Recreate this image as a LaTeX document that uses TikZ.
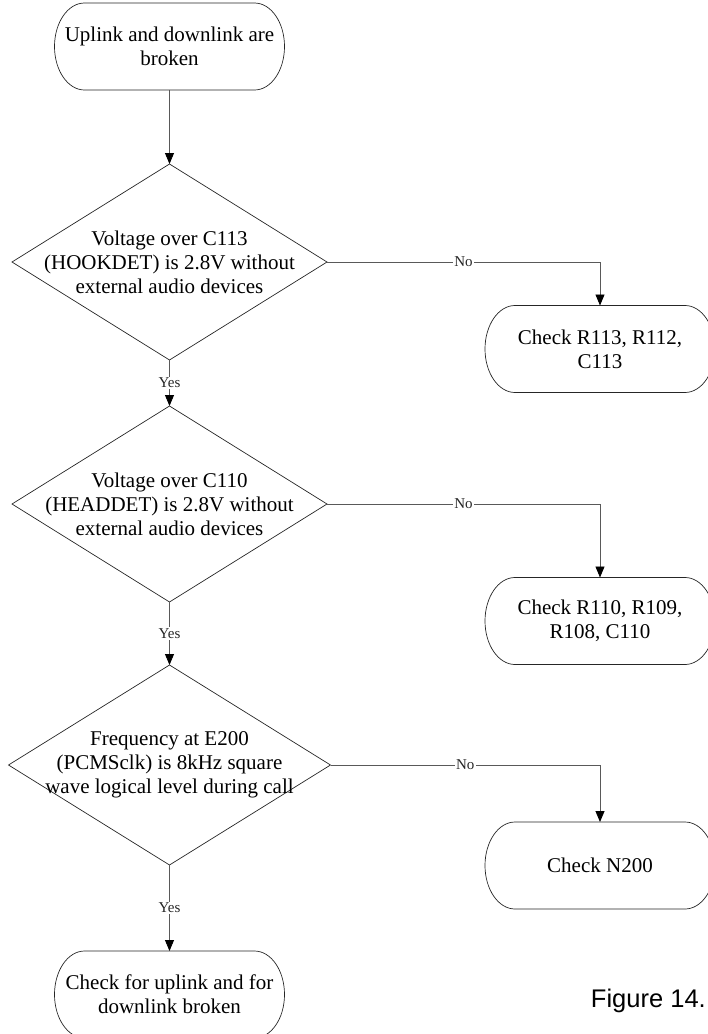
\documentclass[tikz,border=0pt]{standalone}
\usepackage{fontspec}
\setmainfont{Liberation Serif}
\newfontfamily\captionsans{Liberation Sans}
\usetikzlibrary{shapes.geometric,arrows.meta}

\tikzset{
  boxtext/.style={font=\fontsize{21}{24}\selectfont, align=center, inner sep=0pt},
  terminal/.style={rectangle, minimum width=230pt, minimum height=87pt,
    inner sep=0pt, outer sep=0pt, boxtext},
  decision/.style={diamond, draw=black!85, line width=0.7pt, inner sep=0pt,
    outer sep=0pt, minimum width=315pt, minimum height=196pt},
  outline/.style={draw=black!85, line width=0.7pt},
  flow/.style={draw=black!65, line width=0.9pt,
    -{Triangle[length=11pt,width=9pt,black]}},
  edgelabel/.style={fill=white, inner sep=1.5pt,
    font=\fontsize{15}{17}\selectfont, text=black!85},
}

% terminal outline: flat top and bottom, half-elliptic ends
\newcommand\termoutline[1]{%
  \draw[outline] ([xshift=30pt]#1.north west) -- ([xshift=-30pt]#1.north east)
    arc[start angle=90, end angle=-90, x radius=30pt, y radius=43.5pt]
    -- ([xshift=30pt]#1.south west)
    arc[start angle=270, end angle=90, x radius=30pt, y radius=43.5pt] -- cycle;}

\begin{document}
\begin{tikzpicture}[x=1pt, y=1pt]
  \useasboundingbox (0,0) rectangle (708,-1034);

  % main column
  \node[terminal] (start) at (169.5,-46.5) {Uplink and downlink are\\broken};
  \termoutline{start}

  \node[decision] (d1) at (169.5,-262) {};
  \node[boxtext] (d1t) at (d1) {Voltage over C113\\(HOOKDET) is 2.8V without\\external audio devices};

  \node[decision] (d2) at (169.5,-504) {};
  \node[boxtext] (d2t) at (d2) {Voltage over C110\\(HEADDET) is 2.8V without\\external audio devices};

  \node[decision, minimum width=322pt, minimum height=200pt] (d3) at (169.5,-765) {};
  \node[boxtext] (d3t) at (d3) {Frequency at E200\\(PCMSclk) is 8kHz square\\wave logical level during call};

  \node[terminal] (end) at (169.5,-994.5) {Check for uplink and for\\downlink broken};
  \termoutline{end}

  % right column
  \node[terminal] (r1) at (600,-349) {Check R113, R112,\\C113};
  \termoutline{r1}
  \node[terminal] (r2) at (600,-621) {Check R110, R109,\\R108, C110};
  \termoutline{r2}
  \node[terminal] (r3) at (600,-865.5) {Check N200};
  \termoutline{r3}

  % connectors
  \draw[flow] (start.south) -- (d1.north);
  \draw[flow] (d1.south) -- node[edgelabel]{Yes} (d2.north);
  \draw[flow] (d2.south) -- node[edgelabel]{Yes} (d3.north);
  \draw[flow] (d3.south) -- node[edgelabel]{Yes} (end.north);

  \draw[flow] (d1.east) -| node[edgelabel, pos=0.25]{No} (r1.north);
  \draw[flow] (d2.east) -| node[edgelabel, pos=0.25]{No} (r2.north);
  \draw[flow] (d3.east) -| node[edgelabel, pos=0.25]{No} (r3.north);

  % caption
  \node[anchor=east, font=\captionsans\fontsize{25.5}{28}\selectfont, inner sep=0pt]
    (caption) at (706,-1001) {Figure 14.};
\end{tikzpicture}
\end{document}
